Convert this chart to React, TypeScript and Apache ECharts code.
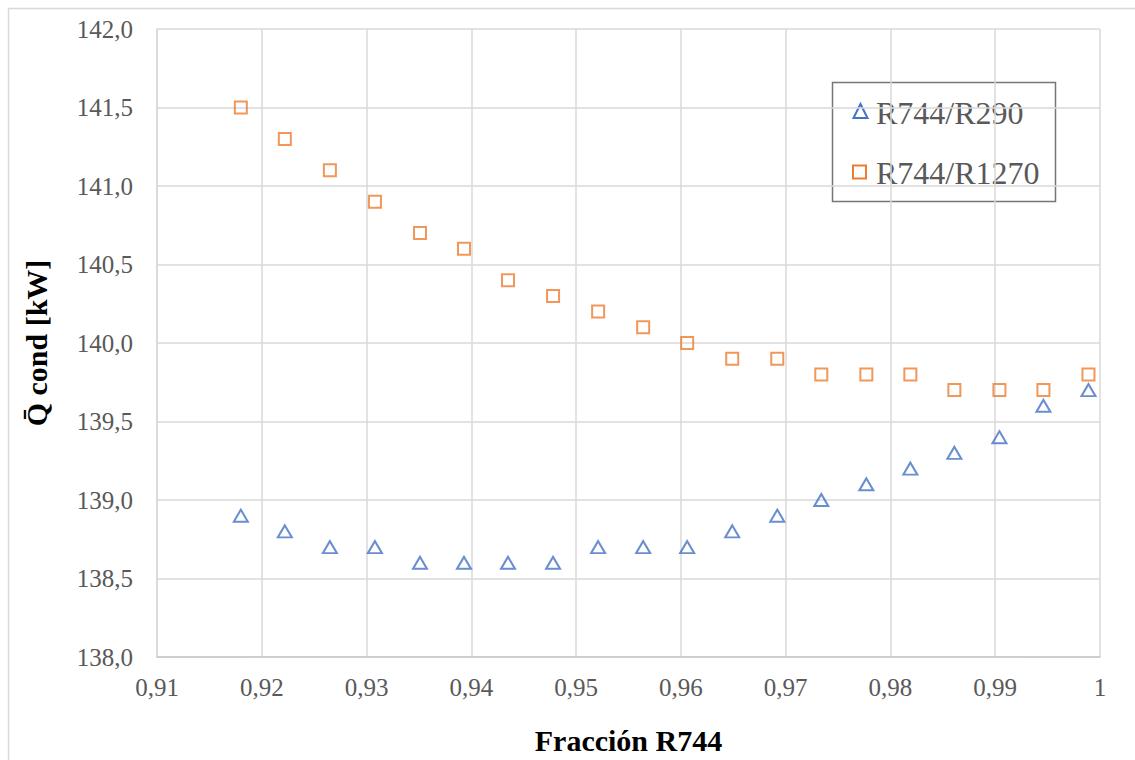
import React, { useEffect, useRef } from "react";
import * as echarts from "echarts";

const fractionR744 = [0.918, 0.9222, 0.9265, 0.9308, 0.9351, 0.9393, 0.9435, 0.9478, 0.9521, 0.9564, 0.9606, 0.9649, 0.9692, 0.9734, 0.9777, 0.9819, 0.9861, 0.9904, 0.9946, 0.9989];
const qR290 = [138.9, 138.8, 138.7, 138.7, 138.6, 138.6, 138.6, 138.6, 138.7, 138.7, 138.7, 138.8, 138.9, 139.0, 139.1, 139.2, 139.3, 139.4, 139.6, 139.7];
const qR1270 = [141.5, 141.3, 141.1, 140.9, 140.7, 140.6, 140.4, 140.3, 140.2, 140.1, 140.0, 139.9, 139.9, 139.8, 139.8, 139.8, 139.7, 139.7, 139.7, 139.8];
const seriesNames = ["R744/R290", "R744/R1270"];
const xTitle = "Fracción R744";
const yTitle = "Q̄ cond [kW]";

const BLUE = "#4472C4";
const ORANGE = "#ED7D31";
const FONT = "Liberation Serif";

export default function App() {
  const ref = useRef<HTMLDivElement>(null);
  useEffect(() => {
    document.body.style.margin = "0";
    const chart = echarts.init(ref.current!, null, { renderer: "svg" });
    const pairs = (ys: number[]) => fractionR744.map((x, i) => [x, ys[i]]);
    chart.setOption({
      animation: false,
      backgroundColor: "#ffffff",
      textStyle: { fontFamily: FONT },
      grid: { left: 157, right: 35, top: 29, bottom: 101 },
      legend: { show: false, data: seriesNames },
      graphic: [
        {
          type: "rect",
          shape: { x: 8.5, y: 8.5, width: 1140, height: 800 },
          style: { fill: "none", stroke: "#d9d9d9", lineWidth: 1.5 },
          silent: true,
        },
        {
          type: "group",
          z: 10,
          silent: true,
          children: [
            {
              type: "rect",
              shape: { x: 832.5, y: 82.5, width: 223, height: 119 },
              style: { fill: "#ffffff", stroke: "#767676", lineWidth: 1.5 },
            },
            {
              type: "polygon",
              shape: { points: [[860.5, 104], [867.5, 118], [853.5, 118]] },
              style: { fill: "none", stroke: BLUE, lineWidth: 2 },
            },
            {
              type: "text",
              x: 876,
              y: 113,
              style: { text: seriesNames[0], fontFamily: FONT, fontSize: 32, fill: "#595959", verticalAlign: "middle", align: "left" },
            },
            {
              type: "rect",
              shape: { x: 853, y: 165.5, width: 13, height: 13 },
              style: { fill: "none", stroke: ORANGE, lineWidth: 2 },
            },
            {
              type: "text",
              x: 876,
              y: 173,
              style: { text: seriesNames[1], fontFamily: FONT, fontSize: 32, fill: "#595959", verticalAlign: "middle", align: "left" },
            },
          ],
        },
      ],
      xAxis: {
        type: "value",
        min: 0.91,
        max: 1,
        interval: 0.01,
        name: xTitle,
        nameLocation: "middle",
        nameGap: 68,
        nameTextStyle: { fontFamily: FONT, fontSize: 30, fontWeight: "bold", color: "#000000" },
        axisLine: { show: true, lineStyle: { color: "#c8c8c8", width: 1.5 } },
        axisTick: { show: false },
        splitLine: { show: true, lineStyle: { color: "#d9d9d9", width: 1.5 } },
        axisLabel: {
          fontFamily: FONT,
          fontSize: 25,
          color: "#595959",
          margin: 18,
          showMaxLabel: true,
          showMinLabel: true,
          formatter: (v: number) => (Math.abs(v - 1) < 1e-9 ? "1" : v.toFixed(2).replace(".", ",")),
        },
      },
      yAxis: {
        type: "value",
        min: 138,
        max: 142,
        interval: 0.5,
        name: yTitle,
        nameLocation: "middle",
        nameRotate: 90,
        nameGap: 106,
        nameTextStyle: { fontFamily: FONT, fontSize: 30, fontWeight: "bold", color: "#000000" },
        axisLine: { show: true, lineStyle: { color: "#d9d9d9", width: 1.5 } },
        axisTick: { show: false },
        splitLine: { show: true, lineStyle: { color: "#d9d9d9", width: 1.5 } },
        axisLabel: {
          fontFamily: FONT,
          fontSize: 25,
          color: "#595959",
          margin: 24,
          formatter: (v: number) => v.toFixed(1).replace(".", ","),
        },
      },
      series: [
        {
          name: seriesNames[0],
          type: "scatter",
          symbol: "triangle",
          symbolSize: [14, 12],
          itemStyle: { color: "transparent", borderColor: BLUE, borderWidth: 2 },
          data: pairs(qR290),
        },
        {
          name: seriesNames[1],
          type: "scatter",
          symbol: "rect",
          symbolSize: 12,
          itemStyle: { color: "transparent", borderColor: ORANGE, borderWidth: 2 },
          data: pairs(qR1270),
        },
      ],
    });
    return () => chart.dispose();
  }, []);
  return <div ref={ref} style={{ width: 1135, height: 760 }} />;
}
